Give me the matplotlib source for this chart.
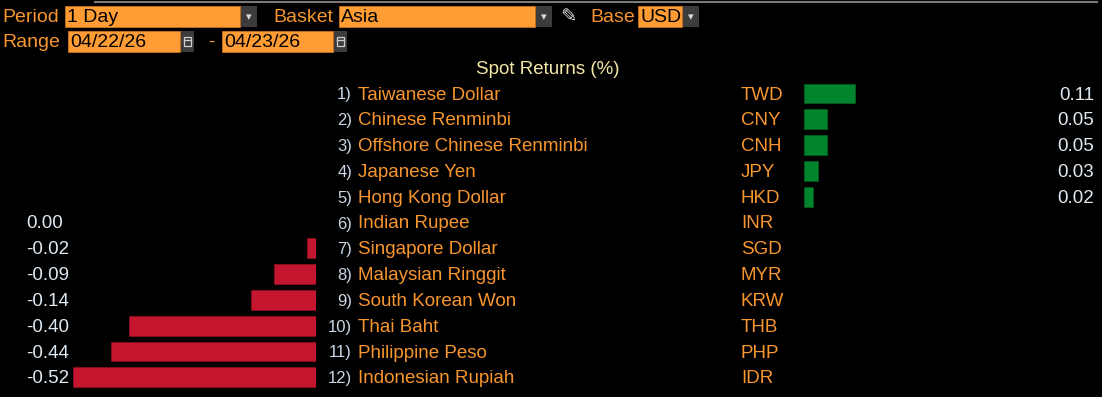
import matplotlib.pyplot as plt
from matplotlib.patches import Rectangle

names = ['Taiwanese Dollar', 'Chinese Renminbi', 'Offshore Chinese Renminbi',
         'Japanese Yen', 'Hong Kong Dollar', 'Indian Rupee', 'Singapore Dollar',
         'Malaysian Ringgit', 'South Korean Won', 'Thai Baht', 'Philippine Peso',
         'Indonesian Rupiah']
codes = ['TWD', 'CNY', 'CNH', 'JPY', 'HKD', 'INR', 'SGD', 'MYR', 'KRW', 'THB', 'PHP', 'IDR']
returns = [0.11, 0.05, 0.05, 0.03, 0.02, 0.00, -0.02, -0.09, -0.14, -0.40, -0.44, -0.52]

W, H = 1102, 397
ORANGE = '#f7962f'
BOX = '#ff9d34'
BTN = '#3c3c3c'
LIGHT = '#dfe9f2'
GREEN = '#00852c'
RED = '#c5162f'
FONT = 'Liberation Sans'

fig = plt.figure(figsize=(W / 100, H / 100), dpi=100, facecolor='black')

# background axes in pixel units for header / labels
bg = fig.add_axes([0, 0, 1, 1])
bg.set_xlim(0, W)
bg.set_ylim(H, 0)
bg.axis('off')
bg.set_facecolor('black')

# row geometry
row0, step = 93.5, 25.8
top_i = -row0 / step
bot_i = (H - row0) / step
px_per_unit = 467.0

# negative bars (zero at x=316)
axn = fig.add_axes([0, 0, 316 / W, 1])
axn.set_xlim(-316 / px_per_unit, 0)
axn.set_ylim(bot_i, top_i)
axn.axis('off')
# positive bars (zero at x=804)
axp = fig.add_axes([804 / W, 0, (W - 804) / W, 1])
axp.set_xlim(0, (W - 804) / px_per_unit)
axp.set_ylim(bot_i, top_i)
axp.axis('off')

rows = list(range(len(returns)))
neg = [(i, v) for i, v in zip(rows, returns) if v < 0]
pos = [(i, v) for i, v in zip(rows, returns) if v > 0]
axn.barh([i for i, _ in neg], [v for _, v in neg], height=0.76, color=RED, edgecolor='#8a0f20', linewidth=0.6)
axp.barh([i for i, _ in pos], [v for _, v in pos], height=0.76, color=GREEN, edgecolor='#005a1c', linewidth=0.6)

fs = 13.5
for i, (n, c, v) in enumerate(zip(names, codes, returns)):
    y = row0 + step * i + 1.5
    bg.text(352, y, f'{i + 1})', color='#c9d7e6', fontsize=12, family=FONT,
            ha='right', va='center')
    bg.text(358, y, n, color=ORANGE, fontsize=fs, family=FONT, ha='left', va='center')
    bg.text(741, y, c, color=ORANGE, fontsize=fs, family=FONT, ha='left', va='center')
    if v > 0:
        bg.text(1094, y, f'{v:.2f}', color=LIGHT, fontsize=fs, family=FONT, ha='right', va='center')
    else:
        bg.text(26, y, f'{v:.2f}', color=LIGHT, fontsize=fs, family=FONT, ha='left', va='center')

bg.text(548, 69, 'Spot Returns (%)', color='#f3e7a6', fontsize=fs, family=FONT, ha='center', va='center')

# header
bg.plot([95, 1097], [2, 2], color='#7a7a7a', lw=1.5)
hfs = 14


def field(x0, x1, label):
    bg.add_patch(Rectangle((x0, 6), x1 - x0, 21, facecolor=BOX, edgecolor='#c87020', lw=0.6))
    bg.text(x0 + 2, 17, label, color='black', fontsize=hfs, family=FONT, ha='left', va='center')
    bg.add_patch(Rectangle((x1 + 1, 6), 16, 21, facecolor=BTN))
    bg.text(x1 + 9, 17, '\u25be', color='#dddddd', fontsize=8, ha='center', va='center')


def date_field(x0, x1, label):
    bg.add_patch(Rectangle((x0, 31), x1 - x0, 21, facecolor=BOX, edgecolor='#c87020', lw=0.6))
    bg.text(x0 + 2, 42.5, label, color='black', fontsize=hfs, family=FONT, ha='left', va='center')
    bg.add_patch(Rectangle((x1 + 1, 31), 13, 21, facecolor=BTN))
    bg.add_patch(Rectangle((x1 + 4, 37), 7, 9, facecolor='none', edgecolor='#cfcfcf', lw=0.9))
    bg.plot([x1 + 4, x1 + 11], [40, 40], color='#cfcfcf', lw=0.9)


bg.text(2, 17, 'Period', color=ORANGE, fontsize=hfs, family=FONT, ha='left', va='center')
field(65, 240, '1 Day')
bg.text(273, 17, 'Basket', color=ORANGE, fontsize=hfs, family=FONT, ha='left', va='center')
field(339, 535, 'Asia')
bg.text(568, 17, '\u270e', color='#dddddd', fontsize=14, family='DejaVu Sans', ha='center', va='center')
bg.text(590, 17, 'Base', color=ORANGE, fontsize=hfs, family=FONT, ha='left', va='center')
field(638, 682, 'USD')

bg.text(2, 42.5, 'Range', color=ORANGE, fontsize=hfs, family=FONT, ha='left', va='center')
date_field(68, 180, '04/22/26')
bg.text(211, 42.5, '-', color=ORANGE, fontsize=hfs, family=FONT, ha='center', va='center')
date_field(222, 333, '04/23/26')

fig.savefig('out.png', dpi=100, facecolor='black')
